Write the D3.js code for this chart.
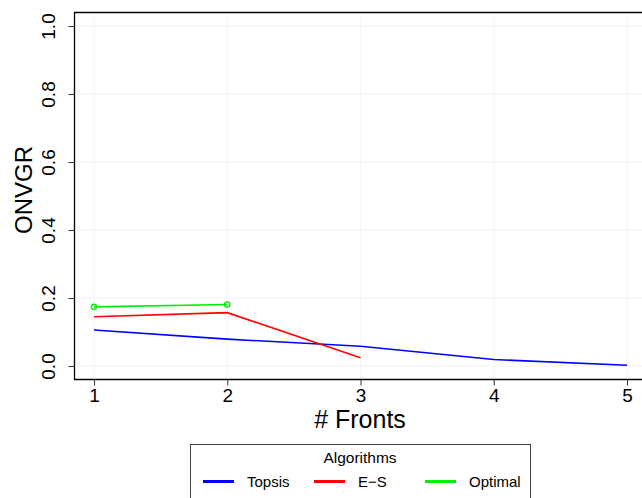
<!DOCTYPE html>
<html><head><meta charset="utf-8">
<script src="https://cdn.jsdelivr.net/npm/d3@7/dist/d3.min.js"></script>
<style>body{margin:0;background:#fff}svg{display:block;font-family:"Liberation Sans",Arial,sans-serif}</style>
</head><body><svg id="c" width="642" height="498"></svg>
<script>
const fronts = [1, 2, 3, 4, 5];
const topsis = [0.106, 0.079, 0.058, 0.019, 0.002];
const es = [0.145, 0.157, 0.024];
const optimal = [0.174, 0.181];
const yTicks = [0.0, 0.2, 0.4, 0.6, 0.8, 1.0];
const seriesNames = ["Topsis", "E\u2212S", "Optimal"];
const colors = ["#0000ff", "#ff0000", "#00ee00"];

const svg = d3.select("#c");
const x = d3.scaleLinear().domain([1, 5]).range([94, 627]);
const y = d3.scaleLinear().domain([0, 1]).range([366, 26]);

// faint grid
const g = svg.append("g");
g.selectAll("line.gx").data(fronts).enter().append("line")
  .attr("x1", d => x(d)).attr("x2", d => x(d)).attr("y1", 12).attr("y2", 379)
  .attr("stroke", "#f5f5f5").attr("stroke-width", 1);
g.selectAll("line.gy").data(yTicks).enter().append("line")
  .attr("x1", 74).attr("x2", 642).attr("y1", d => y(d)).attr("y2", d => y(d))
  .attr("stroke", "#f5f5f5").attr("stroke-width", 1);

// frame
svg.append("path").attr("d", "M642,12.5H74.5V379.5H642").attr("fill", "none").attr("stroke", "#000").attr("stroke-width", 1.3);

// axes
const xa = svg.append("g").attr("transform", "translate(0,379.5)")
  .call(d3.axisBottom(x).tickValues(fronts).tickFormat(d3.format("d")).tickSize(6).tickPadding(3));
xa.select(".domain").remove();
xa.selectAll("text").attr("font-size", 19).attr("fill", "#000").attr("font-family", "Liberation Sans, Arial, sans-serif");
xa.selectAll("line").attr("stroke", "#333");

const ya = svg.append("g").attr("transform", "translate(74.5,0)")
  .call(d3.axisLeft(y).tickValues(yTicks).tickFormat(d3.format(".1f")).tickSize(6));
ya.select(".domain").remove();
ya.selectAll("line").attr("stroke", "#333");
ya.selectAll("text").attr("font-size", 19).attr("fill", "#000").attr("font-family", "Liberation Sans, Arial, sans-serif")
  .attr("text-anchor", "middle")
  .each(function(d){ d3.select(this).attr("x", 0).attr("y", 0).attr("dy", null)
     .attr("transform", `translate(-19.5,0) rotate(-90)`); });

// lines
const line = d3.line().x((d, i) => x(fronts[i])).y(d => y(d));
[topsis, es, optimal].forEach((s, k) => {
  svg.append("path").datum(s).attr("d", line).attr("fill", "none")
    .attr("stroke", colors[k]).attr("stroke-width", 1.6);
});
svg.selectAll("circle.opt").data(optimal).enter().append("circle")
  .attr("cx", (d, i) => x(fronts[i])).attr("cy", d => y(d)).attr("r", 2.6)
  .attr("fill", "none").attr("stroke", colors[2]).attr("stroke-width", 1.4);

// axis titles
svg.append("text").attr("x", 360).attr("y", 428).attr("text-anchor", "middle")
  .attr("font-size", 25).text("# Fronts");
svg.append("text").attr("transform", "translate(31.5,190) rotate(-90)").attr("text-anchor", "middle")
  .attr("font-size", 24).text("ONVGR");

// legend
svg.append("rect").attr("x", 190.5).attr("y", 444.5).attr("width", 340).attr("height", 70)
  .attr("fill", "#fff").attr("stroke", "#444").attr("stroke-width", 1);
svg.append("text").attr("x", 360).attr("y", 463).attr("text-anchor", "middle").attr("font-size", 15.5).text("Algorithms");
const lx = [203, 314, 425];
seriesNames.forEach((n, k) => {
  svg.append("line").attr("x1", lx[k]).attr("x2", lx[k] + 31).attr("y1", 481.5).attr("y2", 481.5)
    .attr("stroke", colors[k]).attr("stroke-width", 3);
  svg.append("text").attr("x", lx[k] + 44).attr("y", 487).attr("font-size", 15).text(n);
});
</script></body></html>
